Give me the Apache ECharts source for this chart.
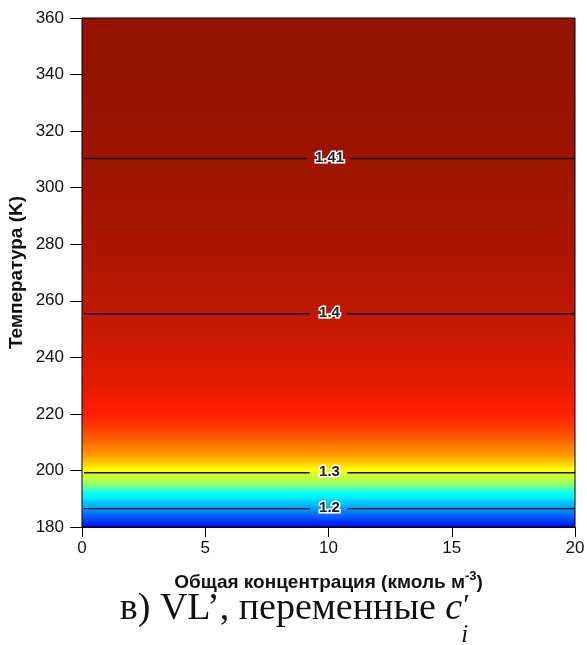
<!DOCTYPE html>
<html>
<head>
<meta charset="utf-8">
<script src="https://cdn.jsdelivr.net/npm/echarts@6/dist/echarts.min.js"></script>
<style>
  html, body { margin: 0; padding: 0; background: #fff; }
  #chart { width: 587px; height: 645px; }
</style>
</head>
<body>
<div id="chart"></div>
<script>
// Total concentration span (kmol m^-3)
const concRange = [0, 20];

// Temperature nodes (K) and the ratio field at each node
const tempK = [180, 183, 186.5, 190, 192, 194, 196, 199.2, 201, 205, 210, 215, 220, 230, 245, 255.4, 280, 310.3, 335, 360];
const ratio = [1.152, 1.176, 1.200, 1.226, 1.235, 1.262, 1.282, 1.300, 1.312, 1.338, 1.356, 1.371, 1.380, 1.389, 1.396, 1.400, 1.406, 1.410, 1.412, 1.4135];

// Contour levels and the temperatures where they run
const contourLabels = ['1.2', '1.3', '1.4', '1.41'];
const contourTemps = [186.5, 199.2, 255.4, 310.3];
const contourLabelConc = 10;

// Axis ticks
const xTicks = [0, 5, 10, 15, 20];
const yTicks = [180, 200, 220, 240, 260, 280, 300, 320, 340, 360];

// Caption pieces
const captionMain = 'в) VL’, переменные ';
const captionVar = 'c';
const captionPrime = '′';
const captionSub = 'i';

// Jet-style colour map over the ratio range
const jet = ['#000096', '#001eff', '#008eff', '#00ffff', '#80ff80', '#ffff00', '#ff8e00', '#ff1e00', '#821200'];
const vMin = 1.123, vMax = 1.418;
function colorOf(v) {
  const t = Math.min(1, Math.max(0, (v - vMin) / (vMax - vMin)));
  return echarts.color.lerp(t, jet);
}

const bandData = [];
for (let i = 0; i < tempK.length - 1; i++) {
  bandData.push([concRange[0], tempK[i], concRange[1], tempK[i + 1], i]);
}
const contourData = contourTemps.map((t, i) => [contourLabelConc, t, i]);

// Caption layout: measure the text so the formula pieces sit right after it
const SANS = '"Liberation Sans", Arial, sans-serif';
const SERIF = '"Liberation Serif", "Times New Roman", serif';
const capSize = 38;
const measureCtx = document.createElement('canvas').getContext('2d');
measureCtx.font = capSize + 'px ' + SERIF;
const mainW = measureCtx.measureText(captionMain).width;
measureCtx.font = 'italic ' + capSize + 'px ' + SERIF;
const varW = measureCtx.measureText(captionVar).width;
const capTotal = mainW + varW + 10;
const capLeft = 296 - capTotal / 2;
const capBottom = 628;

const chart = echarts.init(document.getElementById('chart'), null, { renderer: 'canvas' });

const axisText = { color: '#111', fontSize: 17, fontFamily: SANS };

chart.setOption({
  animation: false,
  grid: {
    left: 82, right: 12, top: 18, bottom: 118,
    outerBoundsMode: 'none',
    containLabel: false,
    show: true, borderColor: '#000', borderWidth: 1, backgroundColor: 'transparent',
    z: 3
  },
  xAxis: {
    type: 'value', min: xTicks[0], max: xTicks[xTicks.length - 1], interval: 5,
    axisLine: { lineStyle: { color: '#000', width: 1 } },
    axisTick: { show: true, inside: false, length: 10, lineStyle: { color: '#000', width: 1 } },
    splitLine: { show: false },
    axisLabel: Object.assign({ margin: 13 }, axisText),
    name: '{a|Общая концентрация (кмоль м}{s|-3}{a|)}',
    nameLocation: 'middle',
    nameGap: 43,
    nameMoveOverlap: false,
    nameTextStyle: {
      rich: {
        a: { fontSize: 19, fontWeight: 'bold', color: '#111', fontFamily: SANS, lineHeight: 22, verticalAlign: 'bottom' },
        s: { fontSize: 13, fontWeight: 'bold', color: '#111', fontFamily: SANS, lineHeight: 16, verticalAlign: 'top' }
      }
    }
  },
  yAxis: {
    type: 'value', min: yTicks[0], max: yTicks[yTicks.length - 1], interval: 20,
    axisLine: { lineStyle: { color: '#000', width: 1 } },
    axisTick: { show: true, inside: false, length: 12, lineStyle: { color: '#000', width: 1 } },
    splitLine: { show: false },
    axisLabel: Object.assign({ margin: 18 }, axisText),
    name: 'Температура (K)',
    nameLocation: 'middle',
    nameGap: 56,
    nameMoveOverlap: false,
    nameRotate: 90,
    nameTextStyle: { fontSize: 19, fontWeight: 'bold', color: '#111', fontFamily: SANS }
  },
  graphic: [
    {
      type: 'text', x: capLeft, y: capBottom,
      style: { text: captionMain, font: capSize + 'px ' + SERIF, fill: '#111', verticalAlign: 'bottom' }
    },
    {
      type: 'text', x: capLeft + mainW, y: capBottom,
      style: { text: captionVar, font: 'italic ' + capSize + 'px ' + SERIF, fill: '#111', verticalAlign: 'bottom' }
    },
    {
      type: 'text', x: capLeft + mainW + varW + 1, y: 591,
      style: { text: captionPrime, font: '30px ' + SERIF, fill: '#111', verticalAlign: 'top' }
    },
    {
      type: 'text', x: capLeft + mainW + varW - 1, y: 648,
      style: { text: captionSub, font: 'italic 25px ' + SERIF, fill: '#111', verticalAlign: 'bottom' }
    }
  ],
  series: [
    {
      // Ratio field shaded as horizontal bands between temperature nodes
      type: 'custom',
      z: 1,
      clip: true,
      encode: { x: [0, 2], y: [1, 3] },
      data: bandData,
      renderItem: function (params, api) {
        const i = api.value(4);
        const lo = api.coord([api.value(0), api.value(1)]);
        const hi = api.coord([api.value(2), api.value(3)]);
        const stops = [];
        const n = 12;
        for (let k = 0; k <= n; k++) {
          const f = k / n;
          const v = ratio[i + 1] + (ratio[i] - ratio[i + 1]) * f;
          stops.push({ offset: f, color: colorOf(v) });
        }
        return {
          type: 'rect',
          shape: { x: lo[0], y: hi[1] - 0.6, width: hi[0] - lo[0], height: lo[1] - hi[1] + 1.2 },
          style: { fill: new echarts.graphic.LinearGradient(0, 0, 0, 1, stops) }
        };
      }
    },
    {
      // Contour lines with inline labels
      type: 'custom',
      z: 4,
      encode: { x: 0, y: 1 },
      data: contourData,
      renderItem: function (params, api) {
        const t = api.value(1);
        const idx = api.value(2);
        const label = contourLabels[idx];
        const left = api.coord([concRange[0], t]);
        const right = api.coord([concRange[1], t]);
        const mid = api.coord([api.value(0), t]);
        const half = 8 + label.length * 3.6;
        const lineStyle = { stroke: '#111', lineWidth: 1.4 };
        return {
          type: 'group',
          children: [
            { type: 'line', shape: { x1: left[0] + 2, y1: left[1], x2: mid[0] - half, y2: mid[1] }, style: lineStyle },
            { type: 'line', shape: { x1: mid[0] + half, y1: mid[1], x2: right[0], y2: right[1] }, style: lineStyle },
            {
              type: 'text',
              x: mid[0] + 1, y: mid[1] - 1,
              style: {
                text: label, align: 'center', verticalAlign: 'middle',
                fill: '#222', stroke: '#fff', lineWidth: 3,
                font: 'bold 15px ' + SANS
              }
            }
          ]
        };
      }
    }
  ]
});
</script>
</body>
</html>
